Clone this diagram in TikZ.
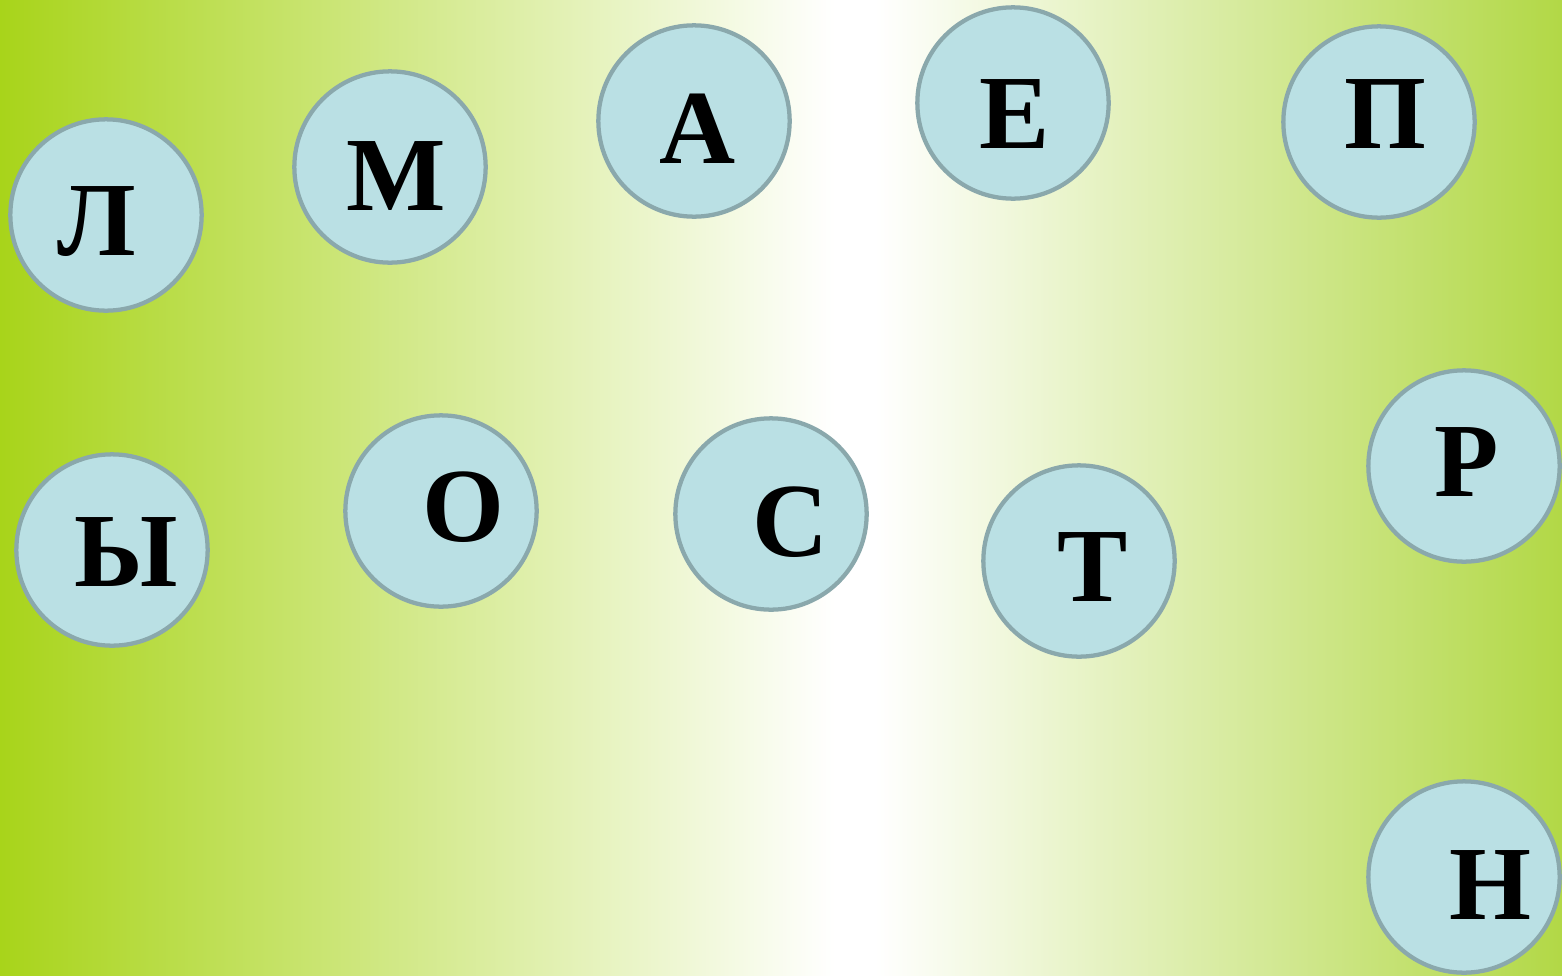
\documentclass[tikz,border=0pt]{standalone}
\usepackage{fontspec}
\setmainfont{Liberation Serif}
\definecolor{gl}{HTML}{A8D41A}
\definecolor{gr}{HTML}{B2D846}
\definecolor{ballfill}{HTML}{BAE0E4}
\definecolor{ballline}{HTML}{8AA8AC}
\tikzset{
  ball/.style={circle,fill=ballfill,draw=ballline,line width=3.2pt,minimum size=143.5pt,inner sep=0pt},
  letter/.style={anchor=base,inner sep=0pt,font=\fontsize{79}{79}\selectfont\bfseries}
}
\begin{document}
\begin{tikzpicture}[x=0.75pt,y=-0.75pt]
\useasboundingbox (0,0) rectangle (1562,975);
\shade[left color=gl,right color=white] (0,0) rectangle (835,975);
\fill[white] (834,0) rectangle (876,975);
\shade[left color=white,right color=gr] (875,0) rectangle (1562,975);
\node[ball] (bl) at (106,215) {};
\node[ball] (bm) at (390,167) {};
\node[ball] (ba) at (694,121) {};
\node[ball] (be) at (1013,103) {};
\node[ball] (bp) at (1379,122) {};
\node[ball] (br) at (1464,466) {};
\node[ball] (by) at (112,550) {};
\node[ball] (bo) at (441,511) {};
\node[ball] (bs) at (771,514) {};
\node[ball] (bt) at (1079,561) {};
\node[ball] (bn) at (1464,877) {};
\node[letter] (tl) at (97,255) {Л};
\node[letter] (tm) at (396,210) {М};
\node[letter] (ta) at (698,163) {А};
\node[letter] (te) at (1015,148) {Е};
\node[letter] (tp) at (1385,148) {П};
\node[letter] (tr) at (1467,496) {Р};
\node[letter] (ty) at (126,586) {Ы};
\node[letter] (to) at (463,541) {О};
\node[letter] (ts) at (791,556) {С};
\node[letter] (tt) at (1093,601) {Т};
\node[letter] (tn) at (1490,919) {Н};
\end{tikzpicture}
\end{document}
